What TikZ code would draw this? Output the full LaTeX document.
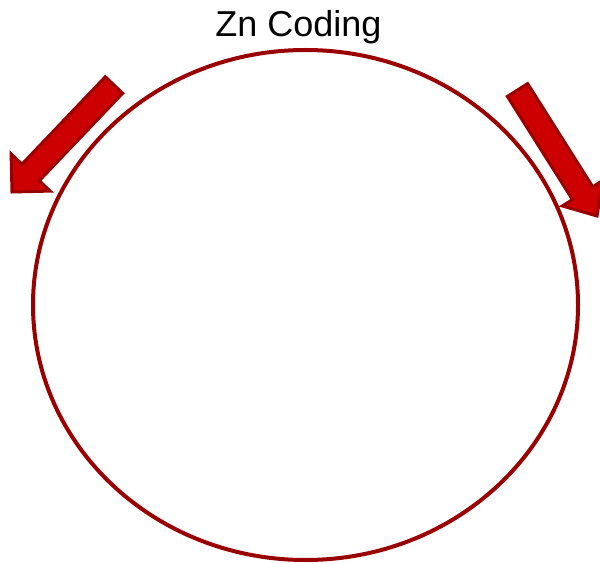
\documentclass[tikz,border=0pt]{standalone}
\usepackage{fontspec}
\setmainfont{Liberation Sans}
\usetikzlibrary{calc}
\definecolor{darkred}{HTML}{990000}
\definecolor{arrowred}{HTML}{CC0000}
\tikzset{
  bigarrow/.style={fill=arrowred, draw=darkred, line width=3pt, line join=miter},
  ring/.style={draw=darkred, line width=4pt}
}
\newcommand{\fatarrow}[4]{% tail, tip, shaft half width, head half width
  \coordinate (B#1) at ($(#2)!27pt!(#1)$);
  \path[bigarrow] ($(#1)!#3!90:(#2)$) -- ($(B#1)!#3!90:(#2)$) -- ($(B#1)!#4!90:(#2)$) -- (#2)
    -- ($(B#1)!#4!-90:(#2)$) -- ($(B#1)!#3!-90:(#2)$) -- ($(#1)!#3!-90:(#2)$) -- cycle;
}
\begin{document}
\begin{tikzpicture}[x=1pt,y=-1pt]
\useasboundingbox (0,0) rectangle (600,564);
\node[font=\fontsize{36}{40}\selectfont, inner sep=0pt, anchor=base] (title) at (298.5,37) {Zn Coding};
\draw[ring] (305.5,305) ellipse [x radius=272.5, y radius=255];
\coordinate (LT) at (114,85);
\coordinate (LP) at (12,192);
\coordinate (RT) at (517.5,90);
\coordinate (RP) at (597,216);
\fatarrow{LT}{LP}{12pt}{27pt}
\fatarrow{RT}{RP}{12pt}{24pt}
\end{tikzpicture}
\end{document}
